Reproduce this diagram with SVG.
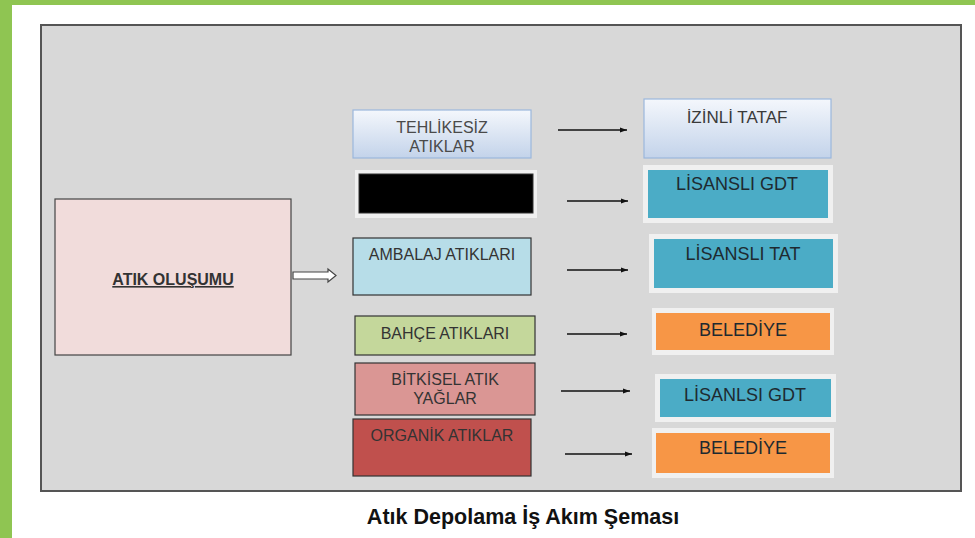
<svg xmlns="http://www.w3.org/2000/svg" width="975" height="538" viewBox="0 0 975 538">
<defs>
<linearGradient id="gBlue" x1="0" y1="0" x2="0" y2="1">
<stop offset="0" stop-color="#f4f7fc"/>
<stop offset="1" stop-color="#c3d3ea"/>
</linearGradient>
<marker id="ah" viewBox="0 0 10 10" refX="10" refY="5" markerWidth="7" markerHeight="7" orient="auto" markerUnits="userSpaceOnUse">
<path d="M0,1.5 L10,5 L0,8.5 Z" fill="#111"/>
</marker>
<style>
.lbl{font-family:"Liberation Sans",Arial,sans-serif;font-size:16px;fill:#333;text-anchor:middle}
.rlbl{font-family:"Liberation Sans",Arial,sans-serif;font-size:18px;fill:#1e2a30;text-anchor:middle}
.frame{fill:#f0f0f0}
.teal{fill:#4bacc6}
.orange{fill:#f79646}
.conn{stroke:#111;stroke-width:1.3;fill:none;marker-end:url(#ah)}
</style>
</defs>
<rect x="0" y="0" width="975" height="538" fill="#ffffff"/>
<rect x="0" y="0" width="975" height="5" fill="#8fc552"/>
<rect x="0" y="0" width="12" height="538" fill="#8fc552"/>
<rect x="41" y="25" width="920" height="466" fill="#d8d8d8" stroke="#555" stroke-width="2"/>

<g id="atik-olusumu">
<rect x="55" y="199" width="236" height="156" fill="#f1dcdb" stroke="#444" stroke-width="1.2"/>
<text x="173" y="285" font-family="Liberation Sans,Arial,sans-serif" font-size="16" font-weight="bold" fill="#333" text-anchor="middle" text-decoration="underline">ATIK OLUŞUMU</text>
</g>

<g id="tehlikesiz">
<rect x="353" y="110" width="178" height="48" fill="url(#gBlue)" stroke="#9bb7dc" stroke-width="1.2"/>
<text class="lbl" x="442" y="133" style="fill:#4a4a4a">TEHLİKESİZ</text>
<text class="lbl" x="442" y="152" style="fill:#4a4a4a">ATIKLAR</text>
</g>

<g id="black-box">
<rect x="355" y="170" width="182" height="48" class="frame"/>
<rect x="359" y="174" width="174" height="39" fill="#000" stroke="#333" stroke-width="1"/>
</g>

<g id="ambalaj">
<rect x="353" y="238" width="178" height="57" fill="#b7dde8" stroke="#333" stroke-width="1.2"/>
<text class="lbl" x="442" y="260">AMBALAJ ATIKLARI</text>
</g>

<g id="bahce">
<rect x="355" y="316" width="180" height="39" fill="#c4d79b" stroke="#333" stroke-width="1.2"/>
<text class="lbl" x="445" y="339">BAHÇE ATIKLARI</text>
</g>

<g id="bitkisel">
<rect x="355" y="363" width="180" height="52" fill="#da9694" stroke="#333" stroke-width="1.2"/>
<text class="lbl" x="445" y="385">BİTKİSEL ATIK</text>
<text class="lbl" x="445" y="404">YAĞLAR</text>
</g>

<g id="organik">
<rect x="353" y="419" width="178" height="57" fill="#c0504d" stroke="#333" stroke-width="1.2"/>
<text class="lbl" x="442" y="441">ORGANİK ATIKLAR</text>
</g>

<g id="izinli-tataf">
<rect x="644" y="99" width="187" height="59" fill="url(#gBlue)" stroke="#9bb7dc" stroke-width="1.2"/>
<text class="rlbl" x="737" y="123" style="fill:#3a3a3a;font-size:17px">İZİNLİ TATAF</text>
</g>

<g id="lisansli-gdt">
<rect x="643" y="165" width="190" height="58" class="frame"/>
<rect x="648" y="170" width="180" height="48" class="teal"/>
<text class="rlbl" x="737" y="190">LİSANSLI GDT</text>
</g>

<g id="lisansli-tat">
<rect x="649" y="234" width="189" height="59" class="frame"/>
<rect x="654" y="239" width="179" height="49" class="teal"/>
<text class="rlbl" x="743" y="260">LİSANSLI TAT</text>
</g>

<g id="belediye-1">
<rect x="652" y="308" width="182" height="47" class="frame"/>
<rect x="656" y="313" width="174" height="37" class="orange"/>
<text class="rlbl" x="743" y="336">BELEDİYE</text>
</g>

<g id="lisanlsi-gdt">
<rect x="655" y="374" width="181" height="48" class="frame"/>
<rect x="660" y="379" width="171" height="38" class="teal"/>
<text class="rlbl" x="745" y="401">LİSANLSI GDT</text>
</g>

<g id="belediye-2">
<rect x="652" y="428" width="182" height="50" class="frame"/>
<rect x="656" y="433" width="174" height="40" class="orange"/>
<text class="rlbl" x="743" y="454">BELEDİYE</text>
</g>

<g id="connectors">
<path d="M293,272 L328,272 L328,269 L336,275.5 L328,282 L328,279 L293,279 Z" fill="#ffffff" stroke="#444" stroke-width="1.2"/>
<line class="conn" x1="558" y1="130" x2="627" y2="130"/>
<line class="conn" x1="567" y1="201" x2="628" y2="201"/>
<line class="conn" x1="567" y1="270" x2="628" y2="270"/>
<line class="conn" x1="567" y1="334" x2="627" y2="334"/>
<line class="conn" x1="561" y1="391" x2="630" y2="391"/>
<line class="conn" x1="565" y1="454" x2="632" y2="454"/>
</g>

<text x="523" y="524" font-family="Liberation Sans,Arial,sans-serif" font-size="21.5" font-weight="bold" fill="#111" text-anchor="middle">Atık Depolama İş Akım Şeması</text>
</svg>
